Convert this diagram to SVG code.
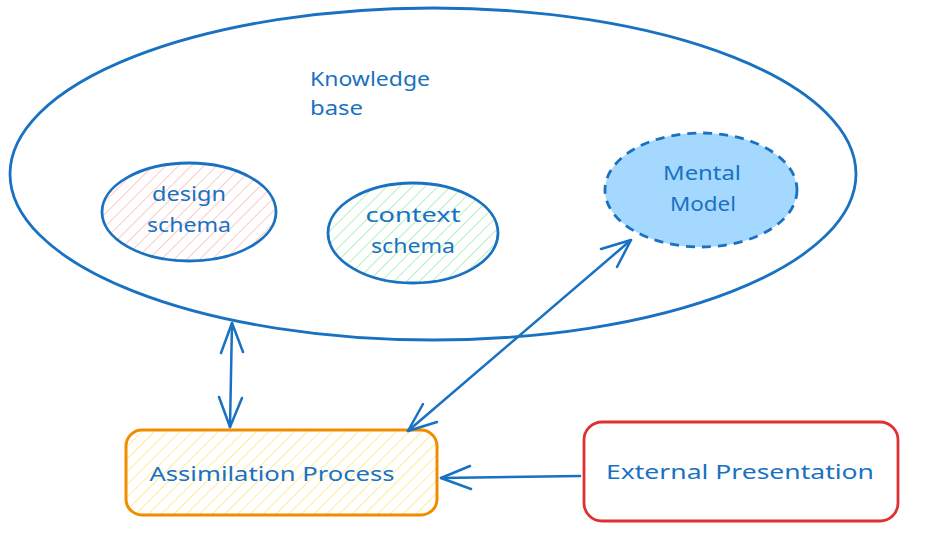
<svg xmlns="http://www.w3.org/2000/svg" width="932" height="540" viewBox="0 0 932 540">
<style>
.t{font-family:"Noto Sans","Liberation Sans",sans-serif;font-size:20px;fill:#1971c2;}
.c{text-anchor:middle;}
.ol{stroke:#1971c2;stroke-width:2.8;}
.ar{stroke:#1971c2;stroke-width:2.5;fill:none;stroke-linecap:round;stroke-linejoin:round;}
</style>
<defs>
<pattern id="hp" width="9" height="9" patternUnits="userSpaceOnUse" patternTransform="rotate(45)"><line x1="0" y1="0" x2="0" y2="9" stroke="#ffc9c9" stroke-width="2"/></pattern>
<pattern id="hg" width="9" height="9" patternUnits="userSpaceOnUse" patternTransform="rotate(45)"><line x1="0" y1="0" x2="0" y2="9" stroke="#b2f2bb" stroke-width="2"/></pattern>
<pattern id="hy" width="9" height="9" patternUnits="userSpaceOnUse" patternTransform="rotate(45)"><line x1="0" y1="0" x2="0" y2="9" stroke="#ffec99" stroke-width="2"/></pattern>
</defs>
<rect width="932" height="540" fill="#ffffff"/>
<g id="knowledge-base">
<ellipse cx="433" cy="174" rx="423" ry="166" fill="none" class="ol"/>
<text class="t" x="310" y="86" textLength="120" lengthAdjust="spacingAndGlyphs">Knowledge</text>
<text class="t" x="310" y="115" textLength="53" lengthAdjust="spacingAndGlyphs">base</text>
</g>
<g id="design-schema">
<ellipse cx="189" cy="212" rx="87" ry="49" fill="url(#hp)" class="ol"/>
<text class="t c" x="189" y="201" textLength="74" lengthAdjust="spacingAndGlyphs">design</text>
<text class="t c" x="189" y="232" textLength="84" lengthAdjust="spacingAndGlyphs">schema</text>
</g>
<g id="context-schema">
<ellipse cx="413" cy="233" rx="85" ry="50" fill="url(#hg)" class="ol"/>
<text class="t c" x="413" y="222" textLength="95" lengthAdjust="spacingAndGlyphs">context</text>
<text class="t c" x="413" y="253" textLength="84" lengthAdjust="spacingAndGlyphs">schema</text>
</g>
<g id="mental-model">
<ellipse cx="701" cy="190" rx="96" ry="57" fill="#a5d8ff" class="ol" stroke-dasharray="9 7"/>
<text class="t c" x="702" y="180" textLength="78" lengthAdjust="spacingAndGlyphs">Mental</text>
<text class="t c" x="703" y="211" textLength="66" lengthAdjust="spacingAndGlyphs">Model</text>
</g>
<g id="assimilation-process">
<rect x="126" y="430" width="311" height="85" rx="16" fill="url(#hy)" stroke="#f08c00" stroke-width="3"/>
<text class="t c" x="272" y="481" textLength="245" lengthAdjust="spacingAndGlyphs">Assimilation Process</text>
</g>
<g id="external-presentation">
<rect x="584" y="422" width="314" height="99" rx="18" fill="#ffffff" stroke="#e03131" stroke-width="2.8"/>
<text class="t c" x="740" y="479" textLength="268" lengthAdjust="spacingAndGlyphs">External Presentation</text>
</g>
<g id="connectors">
<path class="ar" d="M232 323 L230 427"/>
<path class="ar" d="M221 353 L232 323 L243 352"/>
<path class="ar" d="M219 397 L230 427 L242 398"/>
<path class="ar" d="M631 240 L408 431"/>
<path class="ar" d="M601 249 L631 240 L617 267"/>
<path class="ar" d="M423 404 L408 431 L437 422"/>
<path class="ar" d="M580 476 L441 478"/>
<path class="ar" d="M470 466 L441 478 L471 489"/>
</g>
</svg>
